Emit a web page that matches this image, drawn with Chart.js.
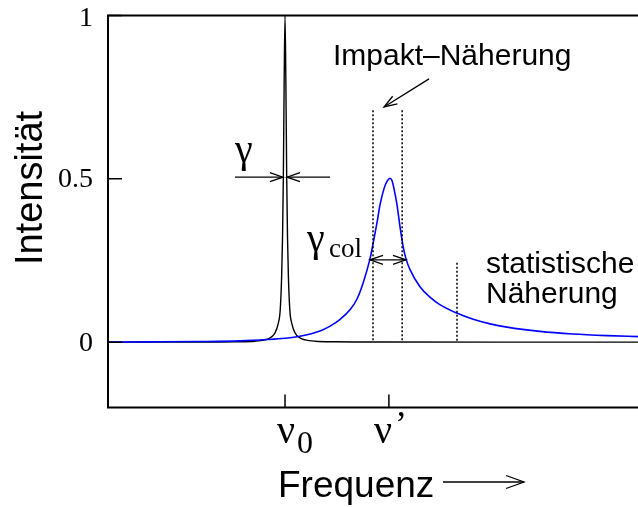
<!DOCTYPE html>
<html>
<head>
<meta charset="utf-8">
<script src="https://cdn.jsdelivr.net/npm/chart.js@4"></script>
<style>
  html, body { margin: 0; padding: 0; background: #fff; }
  canvas { display: block; }
</style>
</head>
<body>
<canvas id="lineChart" width="638" height="507"></canvas>
<script>
// frequency in arbitrary units (0..10), intensity normalised to the natural line
const naturalX = [0, 1.45, 2.40, 2.77, 2.96, 3.06, 3.15, 3.21, 3.25, 3.276, 3.293, 3.308, 3.324, 3.34,
                  3.356, 3.372, 3.387, 3.404, 3.43, 3.47, 3.53, 3.62, 3.72, 3.91, 4.28, 5.23, 10];
const naturalY = [0.0001, 0.0003, 0.0012, 0.003, 0.007, 0.013, 0.028, 0.056, 0.10, 0.2, 0.32, 0.5, 0.8, 1.0,
                  0.8, 0.5, 0.32, 0.2, 0.10, 0.056, 0.028, 0.013, 0.007, 0.003, 0.0012, 0.0003, 0.00002];

const collisionX = [0, 0.79, 1.74, 2.49, 3.0, 3.34, 3.62, 4.0, 4.19, 4.38, 4.566, 4.70, 4.817, 4.943, 5.0,
                    5.08, 5.132, 5.208, 5.264, 5.321, 5.358, 5.396, 5.453, 5.509, 5.566, 5.623, 5.698,
                    5.89, 6.08, 6.26, 6.58, 6.89, 7.21, 7.53, 8.15, 8.77, 9.42, 10];
const collisionY = [0.0006, 0.001, 0.002, 0.004, 0.008, 0.012, 0.018, 0.034, 0.049, 0.07, 0.099, 0.133, 0.183, 0.255, 0.30,
                    0.37, 0.42, 0.47, 0.492, 0.502, 0.495, 0.47, 0.42, 0.354, 0.295, 0.255, 0.222,
                    0.169, 0.137, 0.115, 0.089, 0.070, 0.056, 0.046, 0.033, 0.025, 0.020, 0.017];

const yTicks = [0, 0.5, 1];
const yTickLabels = ['0', '0.5', '1'];
const xTicks = [3.34, 5.3];
const xTickNames = ['ν', 'ν'];
const xTickMarks = ['0', '’'];

// validity ranges marked with dotted lines
const impactBounds = [5.0, 5.55];
const impactTop = 0.71;
const staticBound = 6.585;
const staticTop = 0.243;

function toPoints(xs, ys) {
  return xs.map((v, i) => ({ x: v, y: ys[i] }));
}

function arrowHead(ctx, x0, y0, x1, y1, len, half) {
  const a = Math.atan2(y1 - y0, x1 - x0);
  const bx = -Math.cos(a), by = -Math.sin(a);
  const nx = -by, ny = bx;
  ctx.beginPath();
  ctx.moveTo(x1 + bx * len + nx * half, y1 + by * len + ny * half);
  ctx.lineTo(x1, y1);
  ctx.lineTo(x1 + bx * len - nx * half, y1 + by * len - ny * half);
  ctx.stroke();
}

function arrow(ctx, x0, y0, x1, y1, both, len = 13, half = 4.5) {
  ctx.beginPath();
  ctx.moveTo(x0, y0);
  ctx.lineTo(x1, y1);
  ctx.stroke();
  arrowHead(ctx, x0, y0, x1, y1, len, half);
  if (both) arrowHead(ctx, x1, y1, x0, y0, len, half);
}

const overlay = {
  id: 'overlay',
  afterDatasetsDraw(chart) {
    const { ctx, chartArea: a, scales: { x, y } } = chart;
    const X = v => x.getPixelForValue(v);
    const Y = v => y.getPixelForValue(v);
    ctx.save();

    // frame, the right side runs off the canvas
    ctx.strokeStyle = '#000';
    ctx.lineWidth = 2;
    ctx.beginPath();
    ctx.moveTo(a.right + 2, a.top);
    ctx.lineTo(a.left, a.top);
    ctx.lineTo(a.left, a.bottom);
    ctx.lineTo(a.right + 2, a.bottom);
    ctx.stroke();

    // inward tick marks
    ctx.lineWidth = 1.5;
    ctx.beginPath();
    yTicks.forEach(v => { ctx.moveTo(a.left, Y(v)); ctx.lineTo(a.left + 14, Y(v)); });
    xTicks.forEach(v => { ctx.moveTo(X(v), a.bottom); ctx.lineTo(X(v), a.bottom - 13); });
    ctx.stroke();

    // y tick labels
    ctx.fillStyle = '#000';
    ctx.font = '28px "Liberation Serif"';
    ctx.textAlign = 'right';
    ctx.textBaseline = 'middle';
    yTicks.forEach((v, i) => {
      const py = Math.max(Y(v), 18);
      ctx.fillText(yTickLabels[i], a.left - 15, py + 1);
    });
    ctx.textAlign = 'left';

    // x tick labels with subscript / prime
    ctx.textBaseline = 'alphabetic';
    xTicks.forEach((v, i) => {
      ctx.font = '40px "Liberation Serif"';
      const left = X(v) - (i === 0 ? 8 : 15);
      ctx.fillText(xTickNames[i], left, a.bottom + 35);
      const w = ctx.measureText(xTickNames[i]).width;
      if (/\d/.test(xTickMarks[i])) {
        ctx.font = '32px "Liberation Serif"';
        ctx.fillText(xTickMarks[i], left + w + 2, a.bottom + 45);
      } else {
        ctx.font = '36px "Liberation Serif"';
        ctx.fillText(xTickMarks[i], left + w + 3, a.bottom + 28);
      }
    });

    // dotted validity bounds
    ctx.setLineDash([2, 2]);
    ctx.lineWidth = 1.5;
    ctx.beginPath();
    impactBounds.forEach(v => { ctx.moveTo(X(v), Y(impactTop)); ctx.lineTo(X(v), Y(0)); });
    ctx.moveTo(X(staticBound), Y(staticTop));
    ctx.lineTo(X(staticBound), Y(0));
    ctx.stroke();
    ctx.setLineDash([]);

    // width arrows
    ctx.lineWidth = 1.3;
    arrow(ctx, X(2.396), Y(0.505), X(3.30), Y(0.505));
    arrow(ctx, X(4.19), Y(0.505), X(3.377), Y(0.505));
    arrow(ctx, X(4.943), Y(0.252), X(5.623), Y(0.252), true);
    arrow(ctx, X(6.057), Y(0.806), X(5.208), Y(0.72));

    // annotation texts
    ctx.font = '40px "Liberation Serif"';
    ctx.fillText('γ', X(2.396), Y(0.553));
    ctx.fillText('γ', X(3.755), Y(0.28));
    ctx.font = '27px "Liberation Serif"';
    ctx.fillText('col', X(4.17), Y(0.261));

    ctx.font = '30px "Liberation Sans"';
    ctx.fillText('Impakt–Näherung', X(4.245), Y(0.849));
    ctx.fillText('statistische', X(7.132), Y(0.2125));
    ctx.fillText('Näherung', X(7.132), Y(0.121));

    // axis titles
    ctx.font = '37px "Liberation Sans"';
    ctx.fillText('Frequenz', 278, 496.5);
    arrow(ctx, 443, 482, 524, 482, false, 18, 6.5);
    ctx.save();
    ctx.translate(42, 188);
    ctx.rotate(-Math.PI / 2);
    ctx.textAlign = 'center';
    ctx.font = '38px "Liberation Sans"';
    ctx.fillText('Intensität', 0, 0);
    ctx.restore();

    ctx.restore();
  }
};

new Chart(document.getElementById('lineChart'), {
  type: 'line',
  data: {
    datasets: [
      {
        label: 'Stoßverbreiterung',
        data: toPoints(collisionX, collisionY),
        borderColor: '#0000ff',
        borderWidth: 1.6,
        pointRadius: 0,
        cubicInterpolationMode: 'monotone',
        order: 0
      },
      {
        label: 'natürliche Linie',
        data: toPoints(naturalX, naturalY),
        borderColor: '#000',
        borderWidth: 1.4,
        pointRadius: 0,
        cubicInterpolationMode: 'monotone',
        order: 1
      }
    ]
  },
  options: {
    responsive: false,
    animation: false,
    devicePixelRatio: 1,
    layout: { padding: { top: 15.5, bottom: 99.5, left: 108, right: 0 } },
    plugins: { legend: { display: false }, tooltip: { enabled: false } },
    scales: {
      x: { type: 'linear', min: 0, max: 10, display: false },
      y: { type: 'linear', min: -0.2, max: 1, display: false }
    }
  },
  plugins: [overlay]
});
</script>
</body>
</html>
